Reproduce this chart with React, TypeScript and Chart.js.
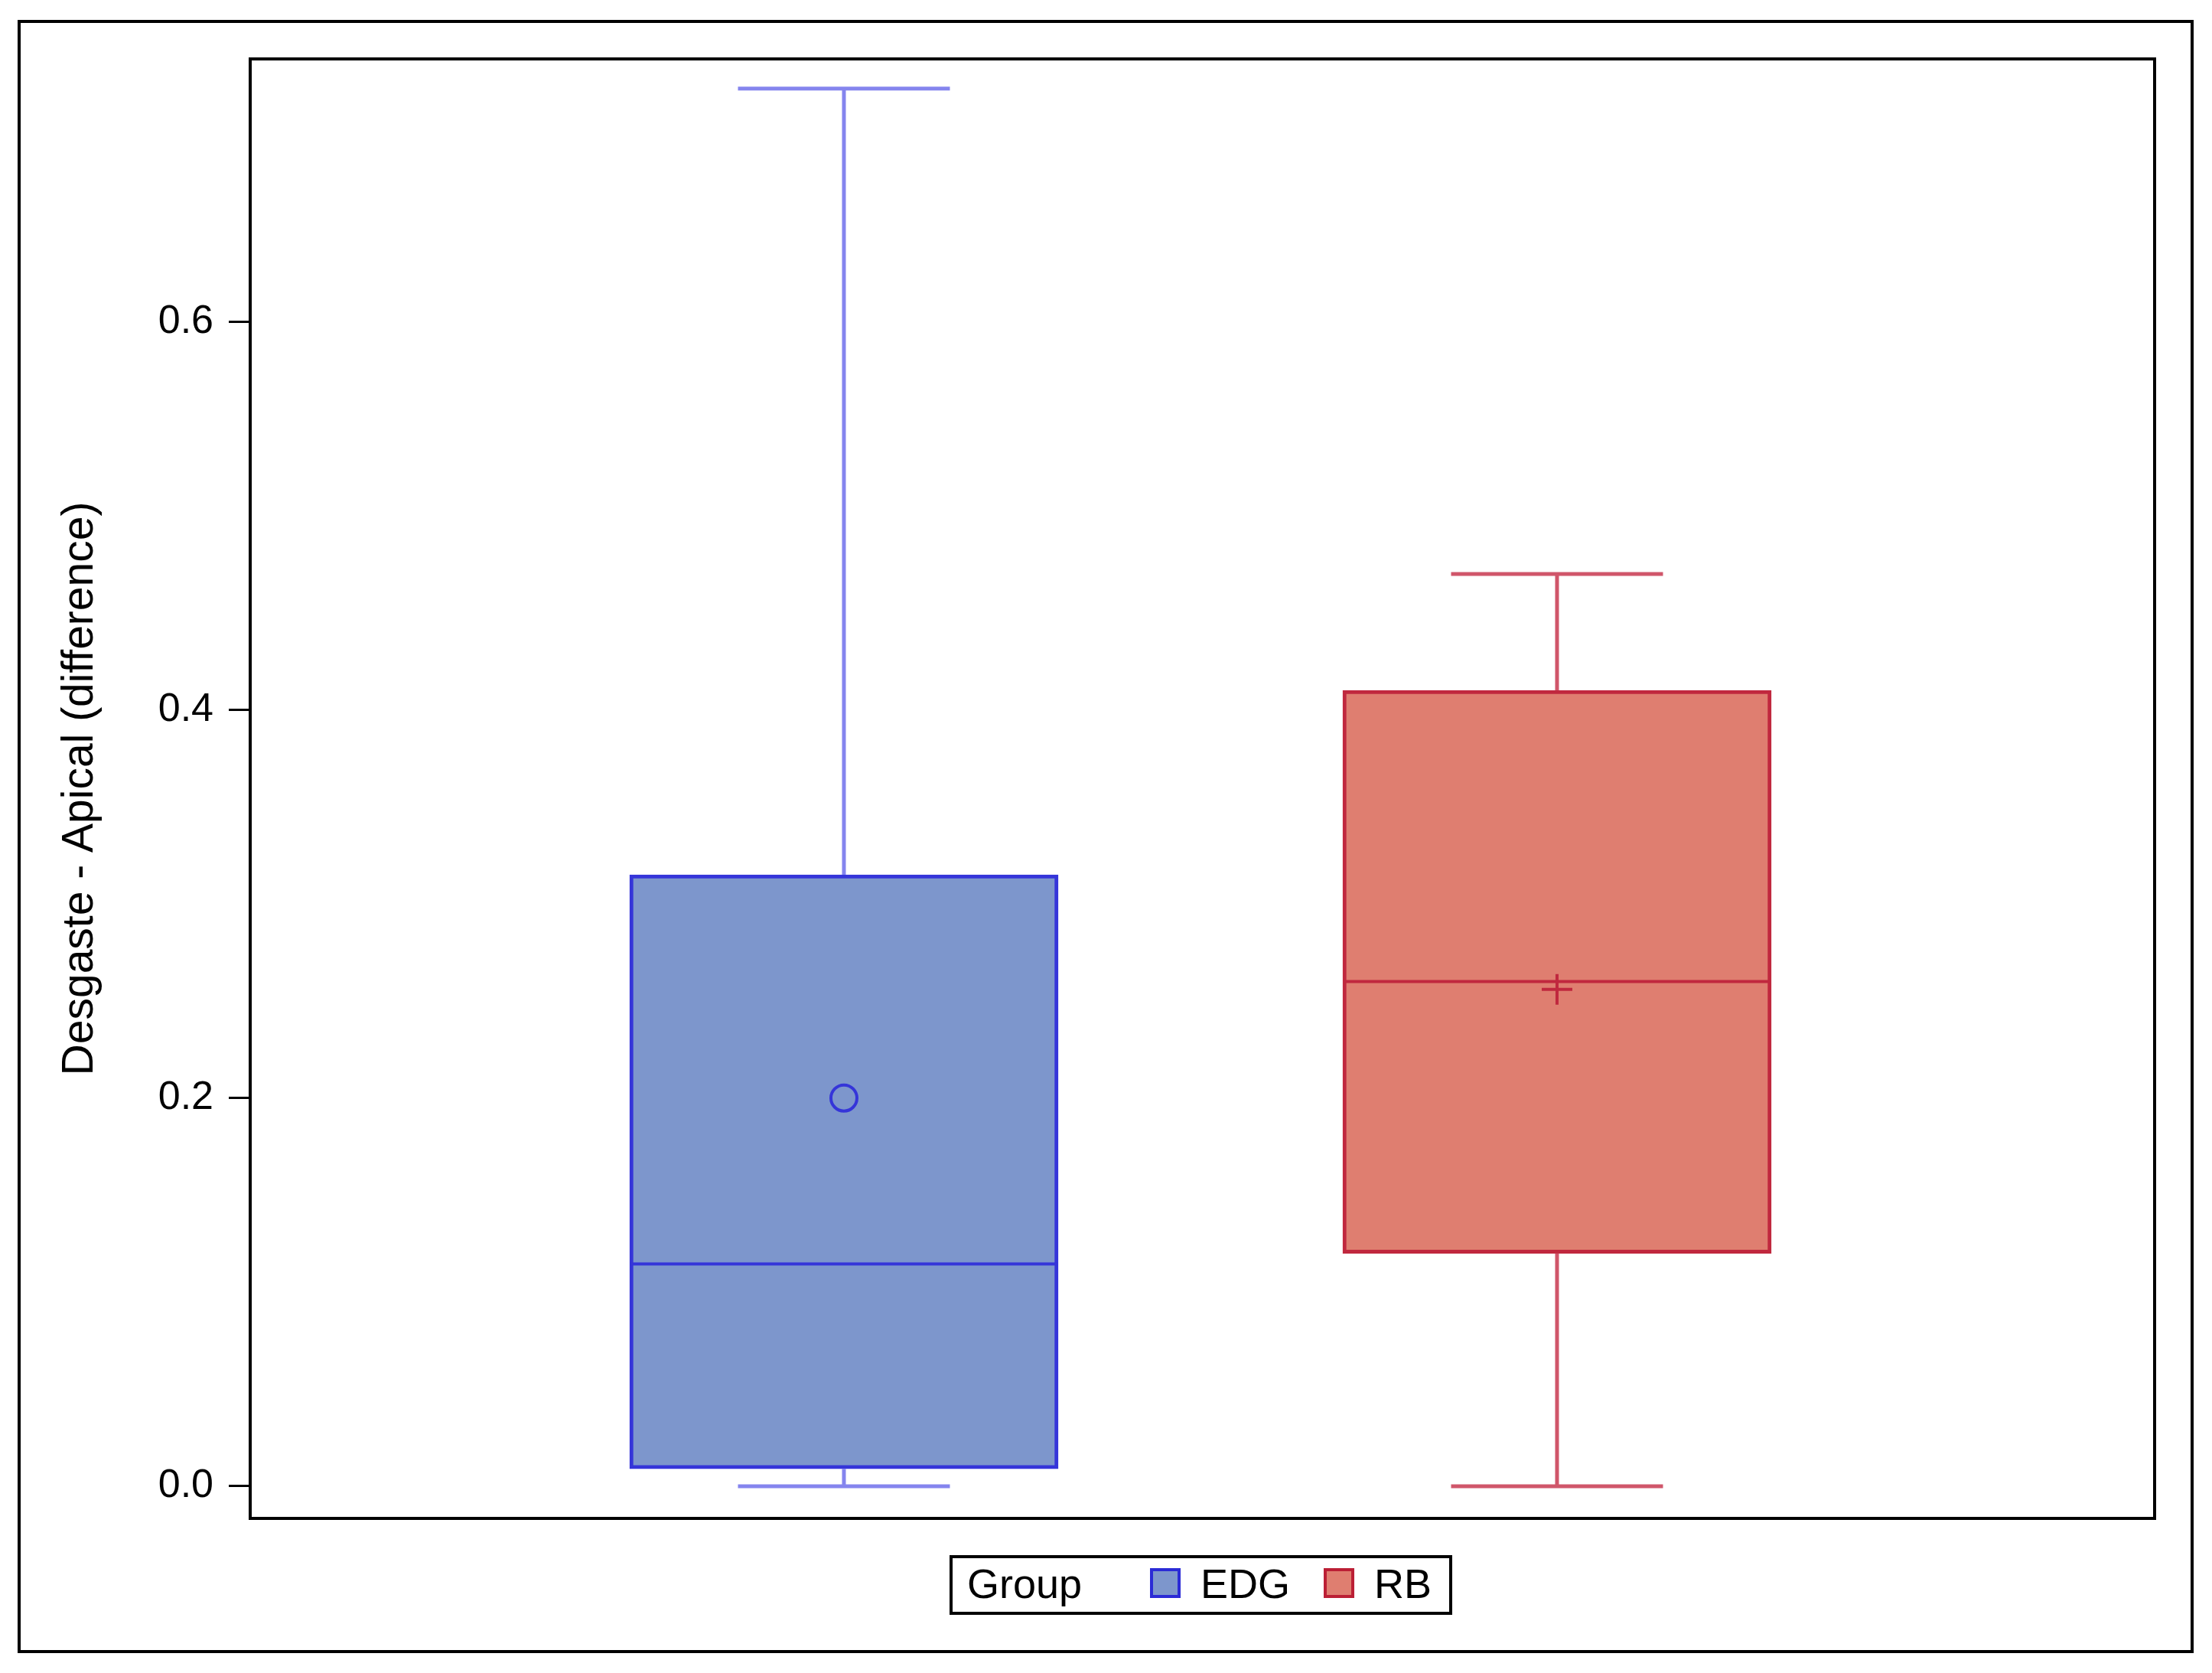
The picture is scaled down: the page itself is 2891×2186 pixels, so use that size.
import React, { useEffect, useRef } from 'react';
import { Chart, registerables } from 'chart.js';

Chart.register(...registerables);

// ---- data ----
const groups = ['EDG', 'RB'];
const groupPositions = [1, 2];
const whiskerLow = [0.0, 0.0];
const q1Values = [0.009, 0.12];
const medianValues = [0.1145, 0.26];
const q3Values = [0.315, 0.41];
const whiskerHigh = [0.72, 0.47];
const meanValues = [0.2, 0.256];
const yTickValues = [0, 0.2, 0.4, 0.6];
const yAxisTitle = 'Desgaste - Apical (difference)';
const legendTitle = 'Group';

// ---- styles ----
const FONT = '"Liberation Sans", Arial, Helvetica, sans-serif';
const FILL = ['#7d96cc', '#df7e70'];
const BORDER = ['#3535d9', '#c0283e'];
const WHISKER = ['#8585ee', '#d0566a'];
const LEGEND_BORDER = ['#2b2bd6', '#bb1f35'];
const MEAN_STYLE = ['circle', 'cross'];
const MEAN_RADIUS = [17, 20];
const BOX_PX = 560; // box width in pixels
const BOX_HALF = 0.3004; // half box width, x-axis units
const CAP_HALF = 0.1486; // half whisker cap width, x-axis units

const framePlugin = {
  id: 'plotFrame',
  afterDraw(chart: any) {
    const { ctx, chartArea } = chart;
    ctx.save();
    ctx.strokeStyle = '#000';
    ctx.lineWidth = 4;
    ctx.strokeRect(chartArea.left, chartArea.top, chartArea.right - chartArea.left, chartArea.bottom - chartArea.top);
    ctx.restore();
  },
};

function buildDatasets() {
  const ds: any[] = [
    {
      type: 'bar',
      data: groupPositions.map((x, i) => ({ x, y: [q1Values[i], q3Values[i]] })),
      backgroundColor: FILL,
      borderColor: BORDER,
      borderWidth: 5,
      borderSkipped: false,
      barThickness: BOX_PX,
      grouped: false,
      order: 4,
    },
  ];
  groupPositions.forEach((x, i) => {
    const line = {
      type: 'line',
      borderColor: WHISKER[i],
      borderWidth: 5,
      pointRadius: 0,
      pointHoverRadius: 0,
      fill: false,
      tension: 0,
      order: 3,
    };
    ds.push({
      ...line,
      data: [
        { x, y: q3Values[i] },
        { x, y: whiskerHigh[i] },
        { x: x - CAP_HALF, y: whiskerHigh[i] },
        { x: x + CAP_HALF, y: whiskerHigh[i] },
      ],
    });
    ds.push({
      ...line,
      data: [
        { x, y: q1Values[i] },
        { x, y: whiskerLow[i] },
        { x: x - CAP_HALF, y: whiskerLow[i] },
        { x: x + CAP_HALF, y: whiskerLow[i] },
      ],
    });
    ds.push({
      ...line,
      borderColor: BORDER[i],
      borderWidth: 4,
      order: 2,
      data: [
        { x: x - BOX_HALF, y: medianValues[i] },
        { x: x + BOX_HALF, y: medianValues[i] },
      ],
    });
    ds.push({
      type: 'line',
      showLine: false,
      data: [{ x, y: meanValues[i] }],
      pointStyle: MEAN_STYLE[i],
      pointRadius: MEAN_RADIUS[i],
      pointBorderWidth: 4,
      pointBorderColor: BORDER[i],
      pointBackgroundColor: 'rgba(0,0,0,0)',
      order: 1,
    });
  });
  return ds;
}

const legendLayout = {
  titleLeft: 1264,
  swatchLeft: [1503, 1730],
  textLeft: [1569, 1796],
};

export default function App() {
  const ref = useRef<HTMLCanvasElement>(null);

  useEffect(() => {
    document.body.style.margin = '0';
    document.body.style.overflow = 'hidden';
    const chart = new Chart(ref.current as HTMLCanvasElement, {
      type: 'bar',
      data: { datasets: buildDatasets() } as any,
      plugins: [framePlugin],
      options: {
        animation: false,
        responsive: false,
        devicePixelRatio: 1,
        layout: { padding: { left: 0, top: 77, right: 75, bottom: 202 } },
        plugins: {
          legend: { display: false },
          tooltip: { enabled: false },
          title: { display: false },
        },
        scales: {
          x: {
            type: 'linear',
            display: false,
            offset: false,
            min: 0.1674,
            max: 2.838,
          },
          y: {
            type: 'linear',
            min: -0.01656,
            max: 0.7353,
            afterBuildTicks: (scale: any) => {
              scale.ticks = yTickValues.map((v) => ({ value: v }));
            },
            afterFit: (scale: any) => {
              scale.width = 327;
            },
            border: { display: false },
            grid: {
              display: true,
              drawOnChartArea: false,
              drawTicks: true,
              tickLength: 28,
              tickColor: '#000',
              tickWidth: 3,
              color: '#000',
            },
            ticks: {
              color: '#000',
              padding: 20,
              font: { family: FONT, size: 52 },
              callback: (v: any) => Number(v).toFixed(1),
            },
            title: {
              display: true,
              text: yAxisTitle,
              color: '#000',
              font: { family: FONT, size: 57, lineHeight: 1.2 },
              padding: { top: 71, bottom: 0 },
            },
          },
        },
      } as any,
    });
    return () => chart.destroy();
  }, []);

  const textStyle: React.CSSProperties = {
    position: 'absolute',
    top: 2042,
    fontFamily: FONT,
    fontSize: 54,
    lineHeight: '54px',
    color: '#000',
    whiteSpace: 'nowrap',
  };

  return (
    <div style={{ position: 'absolute', left: 0, top: 0, width: 2891, height: 2186, background: '#fff', overflow: 'hidden' }}>
      <canvas ref={ref} width={2891} height={2186} style={{ position: 'absolute', left: 0, top: 0, width: 2891, height: 2186 }} />
      <div
        style={{
          position: 'absolute',
          left: 23,
          top: 26,
          width: 2844,
          height: 2134,
          border: '4px solid #000',
          boxSizing: 'border-box',
          pointerEvents: 'none',
        }}
      />
      <div
        style={{
          position: 'absolute',
          left: 1241,
          top: 2032,
          width: 657,
          height: 78,
          border: '4px solid #000',
          boxSizing: 'border-box',
          background: '#fff',
        }}
      />
      <span style={{ ...textStyle, left: legendLayout.titleLeft }}>{legendTitle}</span>
      {groups.map((g, i) => (
        <React.Fragment key={g}>
          <div
            style={{
              position: 'absolute',
              left: legendLayout.swatchLeft[i],
              top: 2049,
              width: 40,
              height: 39,
              background: FILL[i],
              border: `4px solid ${LEGEND_BORDER[i]}`,
              boxSizing: 'border-box',
            }}
          />
          <span style={{ ...textStyle, left: legendLayout.textLeft[i] }}>{g}</span>
        </React.Fragment>
      ))}
    </div>
  );
}
